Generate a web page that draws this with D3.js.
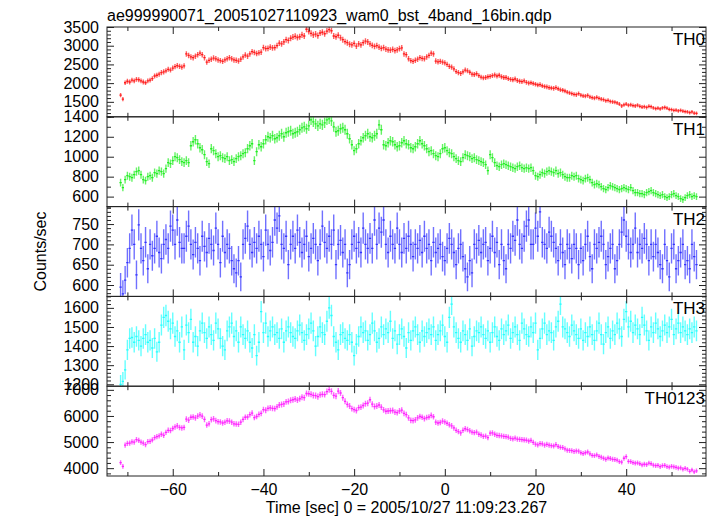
<!DOCTYPE html>
<html><head><meta charset="utf-8">
<script src="https://cdn.jsdelivr.net/npm/d3@7"></script>
<style>body{margin:0;background:#fff}svg text{font-family:"Liberation Sans",Arial,Helvetica,sans-serif;fill:#000}</style>
</head><body><svg id="c" width="717" height="516"></svg>
<script>
const title = "ae999990071_20051027110923_wam0_bst_4band_16bin.qdp";
const xLabel = "Time [sec] 0 = 2005/10/27 11:09:23.267";
const yLabel = "Counts/sec";
const panelNames = ["TH0", "TH1", "TH2", "TH3", "TH0123"];
const binStart = -71.5;   // centre of first 16-bin (0.5 s) sample
const binWidth = 0.5;

const th0 = [
1680,1570,2010,2050,2030,2080,2060,2100,2090,2060,
2030,2010,2060,2080,2120,2190,2210,2240,2280,2300,
2330,2370,2350,2400,2440,2470,2450,2430,2460,2780,
2740,2700,2680,2720,2760,2800,2760,2680,2560,2610,
2640,2670,2650,2620,2600,2580,2620,2650,2680,2650,
2620,2610,2590,2640,2700,2750,2720,2780,2840,2820,
2790,2810,2830,2950,2920,2930,2960,2940,2950,3000,
3070,3050,3100,3160,3140,3200,3230,3250,3220,3240,
3290,3260,3440,3380,3330,3290,3310,3270,3340,3360,
3320,3390,3430,3400,3260,3240,3280,3210,3160,3110,
3080,3040,3020,3060,2990,3050,3020,3080,3120,3100,
3050,3010,2980,3000,2960,2930,2950,2910,2890,2880,
2900,2870,2890,2920,2940,2780,2760,2650,2600,2580,
2610,2640,2680,2660,2650,2700,2740,2800,2780,2590,
2570,2580,2560,2540,2500,2450,2430,2380,2310,2280,
2260,2300,2350,2330,2290,2240,2230,2250,2200,2160,
2140,2150,2170,2180,2200,2220,2190,2210,2170,2150,
2150,2120,2100,2090,2110,2070,2050,2040,2060,2020,
2000,2010,1990,1970,1950,1960,1930,1910,1900,1880,
1870,1860,1880,1850,1820,1810,1790,1760,1740,1720,
1700,1690,1720,1680,1660,1650,1670,1630,1610,1600,
1620,1590,1570,1560,1530,1540,1510,1500,1490,1470,
1440,1390,1420,1440,1410,1420,1400,1390,1410,1380,
1360,1370,1350,1380,1370,1340,1320,1330,1310,1340,
1350,1330,1300,1290,1270,1280,1260,1270,1250,1240,
1230,1210,1230,1200,1190];

const th1 = [
740,690,770,810,800,790,820,850,860,820,
770,760,800,810,790,840,830,860,850,830,
880,940,930,960,1000,990,970,950,940,960,
940,1110,1150,1170,1130,1090,1070,1020,950,930,
1080,1060,1030,1000,1010,990,980,1000,960,970,
950,980,1000,1010,1030,1040,1080,1110,1130,960,
1050,1120,1100,1130,1170,1200,1190,1210,1180,1190,
1210,1230,1200,1240,1250,1260,1230,1240,1250,1270,
1290,1300,1280,1310,1370,1350,1330,1310,1330,1320,
1340,1370,1380,1360,1300,1250,1260,1280,1290,1270,
1230,1180,1120,1060,1080,1130,1160,1190,1210,1230,
1200,1190,1210,1230,1320,1270,1120,1110,1140,1160,
1150,1120,1100,1110,1140,1160,1130,1120,1090,1080,
1100,1130,1160,1130,1110,1080,1050,1060,1030,1010,
1000,1030,1080,1090,1060,1040,1030,1000,980,960,
950,990,1020,1010,1000,980,990,970,960,950,
940,920,860,1020,990,940,910,900,920,930,
920,910,900,890,880,900,910,890,880,890,
880,890,860,810,800,820,840,830,850,860,
850,840,860,830,840,820,800,790,790,810,
800,810,780,770,760,780,790,770,740,720,
730,720,700,680,670,690,710,700,690,680,
670,680,690,680,670,690,660,640,640,630,
630,620,640,650,660,640,630,620,610,620,
600,590,600,620,630,610,600,580,570,590,
610,620,600,610,600];

const th2 = [
595,578,612,655,690,735,700,625,748,690,
660,705,640,700,672,690,720,680,665,700,
712,690,745,735,700,760,705,690,690,720,
745,700,675,705,690,660,720,695,680,715,
700,685,740,700,655,720,680,700,690,660,
640,630,660,620,700,715,745,700,680,705,
690,720,700,670,735,700,685,705,760,740,
770,700,690,720,650,700,720,690,735,705,
680,700,720,670,690,715,700,660,700,745,
705,690,720,700,735,650,700,710,680,700,
630,650,700,720,690,705,680,740,700,690,
715,690,760,700,740,730,760,700,680,720,
700,690,740,700,680,715,690,720,700,670,
700,690,710,680,720,690,700,660,705,680,
690,700,670,660,690,715,700,680,650,690,
700,670,640,620,660,630,700,690,710,680,
700,705,660,690,720,680,705,650,700,660,
640,700,690,720,710,760,700,690,720,745,
760,700,700,740,720,780,705,700,690,730,
720,705,690,660,700,680,650,700,690,665,
700,690,650,690,660,700,720,670,640,700,
690,705,720,700,650,670,690,700,640,660,
700,730,760,720,700,680,700,740,680,700,
690,715,700,660,700,670,700,680,650,640,
700,660,620,690,700,640,660,680,700,650,
660,640,700,670,650];

const th3 = [
1200,1215,1275,1380,1440,1445,1420,1450,1430,1400,
1440,1460,1420,1430,1390,1440,1370,1420,1510,1550,
1560,1530,1490,1520,1450,1480,1420,1500,1380,1510,
1470,1540,1420,1450,1400,1480,1520,1470,1440,1500,
1460,1430,1520,1490,1440,1400,1380,1480,1500,1520,
1450,1480,1420,1500,1460,1440,1480,1420,1390,1460,
1350,1420,1580,1470,1520,1450,1480,1500,1460,1470,
1440,1490,1420,1480,1500,1470,1450,1440,1480,1510,
1470,1430,1460,1490,1520,1480,1400,1450,1500,1470,
1460,1530,1600,1560,1450,1420,1380,1460,1470,1440,
1430,1460,1420,1350,1410,1450,1500,1470,1480,1430,
1460,1520,1480,1420,1440,1500,1460,1490,1470,1530,
1440,1480,1410,1460,1490,1450,1390,1470,1430,1480,
1500,1460,1420,1480,1450,1470,1490,1460,1500,1430,
1460,1480,1510,1450,1420,1550,1620,1500,1470,1440,
1420,1480,1460,1430,1490,1400,1450,1480,1470,1500,
1460,1440,1480,1420,1470,1500,1450,1430,1490,1460,
1480,1510,1440,1470,1500,1460,1430,1520,1490,1460,
1450,1500,1470,1520,1380,1440,1490,1520,1460,1480,
1470,1430,1500,1530,1620,1500,1490,1470,1450,1510,
1480,1460,1440,1490,1430,1470,1450,1500,1460,1430,
1480,1520,1460,1410,1470,1500,1440,1480,1460,1520,
1490,1450,1540,1580,1500,1530,1470,1510,1490,1460,
1550,1510,1480,1430,1500,1470,1520,1490,1450,1480,
1510,1470,1500,1540,1460,1490,1520,1470,1500,1480,
1460,1490,1470,1500,1480];

const th0123 = [
4210,4070,4880,4950,4960,5010,5000,5090,5060,5000,
4960,4900,5020,5030,5080,5170,5210,5240,5300,5260,
5370,5450,5440,5520,5580,5620,5560,5540,5560,5880,
5840,5950,5960,5930,5990,6040,5990,5870,5650,5700,
5860,5890,5820,5780,5770,5730,5760,5810,5800,5760,
5700,5690,5680,5760,5870,5950,5960,6050,6110,5940,
5980,6060,6100,6240,6220,6290,6310,6290,6280,6350,
6420,6440,6460,6540,6550,6600,6620,6650,6610,6660,
6720,6700,6860,6850,6830,6790,6780,6740,6810,6830,
6820,6930,7010,6940,6790,6760,6950,6880,6700,6560,
6440,6380,6280,6240,6210,6320,6340,6400,6470,6490,
6620,6450,6360,6380,6420,6340,6230,6180,6190,6200,
6210,6150,6130,6190,6220,6100,6050,5930,5830,5820,
5850,5930,5980,5950,5900,5940,5960,6020,5970,5760,
5730,5750,5800,5770,5720,5660,5620,5540,5450,5400,
5350,5450,5510,5480,5430,5380,5360,5380,5300,5270,
5220,5230,5170,5340,5350,5300,5260,5250,5240,5220,
5210,5190,5140,5120,5150,5110,5100,5090,5080,5070,
5040,5060,4990,4920,4890,4940,4930,4880,4910,4880,
4860,4850,4900,4830,4800,4790,4740,4690,4680,4670,
4640,4660,4650,4590,4560,4590,4620,4550,4490,4480,
4510,4450,4420,4380,4340,4390,4370,4340,4330,4310,
4250,4230,4380,4440,4260,4250,4210,4190,4200,4170,
4130,4150,4140,4190,4170,4120,4100,4110,4060,4100,
4110,4060,4040,4070,4050,4030,4000,4010,3960,3990,
3960,3880,3930,3860,3900];

const xDomain = [-74.5, 57.6];
const xMajorTicks = [-60, -40, -20, 0, 20, 40];
const xMinorTicks = [-70, -50, -30, -10, 10, 30, 50];
const yDomains = [[1100, 3500], [500, 1400], [572, 793], [1190, 1660], [3700, 7140]];
const yMajorTicks = [
  [1500, 2000, 2500, 3000, 3500],
  [600, 800, 1000, 1200, 1400],
  [600, 650, 700, 750],
  [1200, 1300, 1400, 1500, 1600],
  [4000, 5000, 6000, 7000]];
const yMinorStep = [100, 100, 10, 20, 200];
const colors = ["#ff1a1a", "#22ee22", "#3333ff", "#22ffff", "#ff22ff"];
const series = [th0, th1, th2, th3, th0123];

const svg = d3.select("#c");
const L = 107, R = 706, T = 27, B = 476;
const ph = (B - T) / 5;
const x = d3.scaleLinear().domain(xDomain).range([L, R]);

svg.append("text").attr("x", L).attr("y", 21).attr("font-size", 16).text(title);

series.forEach((vals, p) => {
  const top = T + p * ph, bot = top + ph;
  const y = d3.scaleLinear().domain(yDomains[p]).range([bot, top]);
  const g = svg.append("g");
  const clipId = "clip" + p;
  svg.append("clipPath").attr("id", clipId).append("rect")
    .attr("x", L).attr("y", top).attr("width", R - L).attr("height", ph);
  const dg = g.append("g").attr("clip-path", `url(#${clipId})`);
  const pts = vals.map((v, i) => ({t: binStart + i * binWidth, v, e: Math.sqrt(v / binWidth) }));
  // error bars
  dg.selectAll("line.err").data(pts).join("line")
    .attr("x1", d => x(d.t)).attr("x2", d => x(d.t))
    .attr("y1", d => y(d.v - d.e)).attr("y2", d => y(d.v + d.e))
    .attr("stroke", colors[p]).attr("stroke-opacity", 0.7).attr("stroke-width", 1.4);
  // bin steps
  dg.selectAll("line.bin").data(pts).join("line")
    .attr("x1", d => x(d.t - binWidth / 2)).attr("x2", d => x(d.t + binWidth / 2))
    .attr("y1", d => y(d.v)).attr("y2", d => y(d.v))
    .attr("stroke", colors[p]).attr("stroke-width", 1.3);

  // minor y ticks
  const [y0, y1] = yDomains[p];
  const minor = d3.range(Math.ceil(y0 / yMinorStep[p]) * yMinorStep[p], y1 + 0.001, yMinorStep[p])
    .filter(v => !yMajorTicks[p].includes(v));
  const clean = s => s.select(".domain").remove();
  g.append("g").attr("transform", `translate(${L},0)`)
    .call(d3.axisLeft(y).tickValues(minor).tickSize(-4).tickFormat("")).call(clean);
  g.append("g").attr("transform", `translate(${R},0)`)
    .call(d3.axisRight(y).tickValues(minor).tickSize(-4).tickFormat("")).call(clean);
  g.append("g").attr("transform", `translate(${R},0)`)
    .call(d3.axisRight(y).tickValues(yMajorTicks[p]).tickSize(-7).tickFormat("")).call(clean);
  const yl = g.append("g").attr("transform", `translate(${L},0)`)
    .call(d3.axisLeft(y).tickValues(yMajorTicks[p]).tickSize(-7).tickPadding(8).tickFormat(d3.format("d")));
  yl.call(clean);
  yl.selectAll("text").attr("font-size", 16).attr("fill", "#000");

  // x ticks top/bottom
  [[top, d3.axisTop], [bot, d3.axisBottom]].forEach(([yy, ax]) => {
    g.append("g").attr("transform", `translate(0,${yy})`)
      .call(ax(x).tickValues(xMinorTicks).tickSize(-4).tickFormat("")).call(clean);
    const mg = g.append("g").attr("transform", `translate(0,${yy})`)
      .call(ax(x).tickValues(xMajorTicks).tickSize(-7).tickPadding(8)
        .tickFormat(p === 4 && ax === d3.axisBottom ? d3.format("d") : ""));
    mg.call(clean);
    mg.selectAll("text").attr("font-size", 16).attr("fill", "#000");
  });
  g.selectAll(".tick line").attr("stroke", "#222");

  g.append("rect").attr("x", L).attr("y", top).attr("width", R - L).attr("height", ph)
    .attr("fill", "none").attr("stroke", "#222").attr("stroke-width", 1);
  g.append("text").attr("x", 705).attr("y", top + 18).attr("text-anchor", "end")
    .attr("font-size", 17).text(panelNames[p]);
});

svg.append("text").attr("transform", `translate(46,${(T + B) / 2}) rotate(-90)`)
  .attr("text-anchor", "middle").attr("font-size", 16).text(yLabel);
svg.append("text").attr("x", (L + R) / 2).attr("y", 513).attr("text-anchor", "middle")
  .attr("font-size", 16).text(xLabel);
</script></body></html>
